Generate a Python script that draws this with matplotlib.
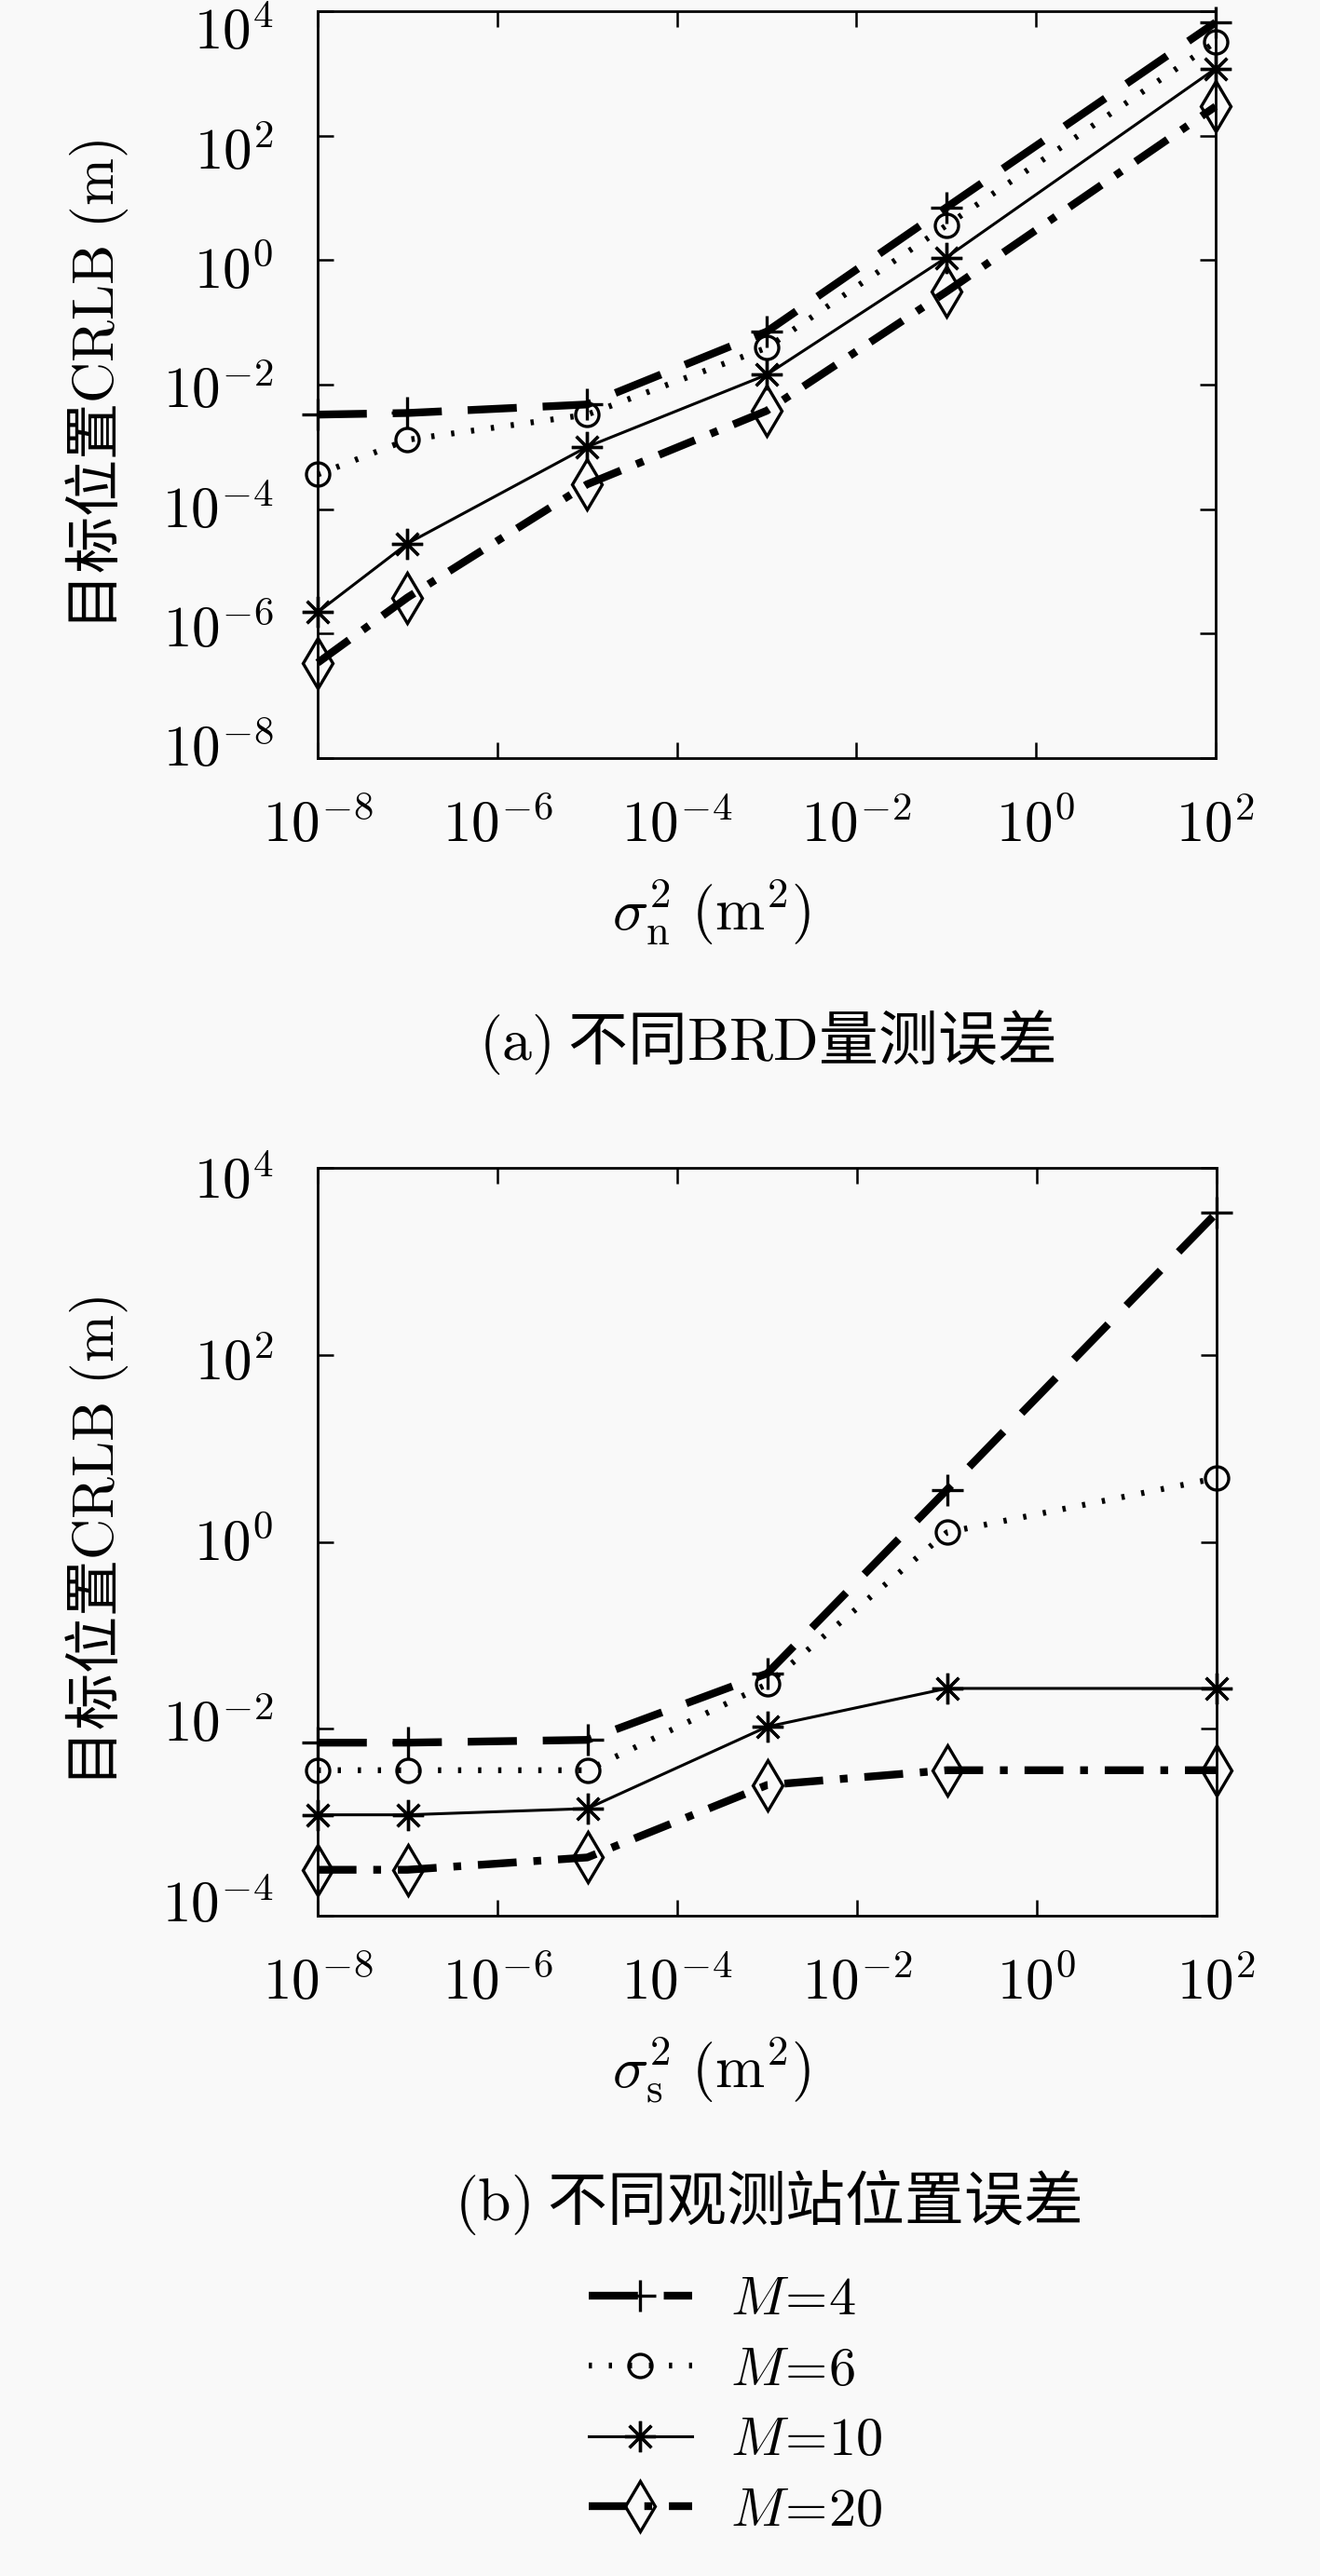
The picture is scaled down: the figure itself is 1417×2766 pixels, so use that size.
import matplotlib
matplotlib.use("Agg")
import matplotlib.pyplot as plt
import matplotlib.transforms as mtransforms

plt.rcParams['font.family'] = ['Noto Sans CJK SC', 'DejaVu Sans']
plt.rcParams['mathtext.fontset'] = 'cm'
plt.rcParams['lines.scale_dashes'] = False

# ---------------- data ----------------
x_vals = [1e-8, 1e-7, 1e-5, 1e-3, 1e-1, 1e2]
labels = [r'$M\!=\!4$', r'$M\!=\!6$', r'$M\!=\!10$', r'$M\!=\!20$']

# (a) different BRD measurement error
a_M4 = [3.3e-3, 3.5e-3, 4.8e-3, 7.1e-2, 7.0, 6600]
a_M6 = [3.6e-4, 1.3e-3, 3.3e-3, 3.9e-2, 3.6, 3200]
a_M10 = [2.2e-6, 2.8e-5, 1.0e-3, 1.44e-2, 1.1, 1200]
a_M20 = [3.4e-7, 3.8e-6, 2.5e-4, 3.8e-3, 0.31, 295]

# (b) different station position error
b_M4 = [7.1e-3, 7.1e-3, 7.6e-3, 3.9e-2, 3.6, 3300]
b_M6 = [3.6e-3, 3.6e-3, 3.6e-3, 3.0e-2, 1.26, 4.8]
b_M10 = [1.2e-3, 1.2e-3, 1.4e-3, 1.05e-2, 2.7e-2, 2.7e-2]
b_M20 = [3.1e-4, 3.1e-4, 4.2e-4, 2.5e-3, 3.6e-3, 3.6e-3]

xtick_exp = [-8, -6, -4, -2, 0, 2]
a_ytick_exp = [-8, -6, -4, -2, 0, 2, 4]
b_ytick_exp = [-4, -2, 0, 2, 4]

ylabel_text = r'目标位置$\mathrm{CRLB\ (m)}$'
xlabel_a = r'$\sigma_\mathrm{n}^2\ (\mathrm{m}^2)$'
xlabel_b = r'$\sigma_\mathrm{s}^2\ (\mathrm{m}^2)$'
caption_a = r'$(\mathrm{a})$ 不同$\mathrm{BRD}$量测误差'
caption_b = r'$(\mathrm{b})$ 不同观测站位置误差'

# ---------------- styles ----------------
styles = [
    dict(color='black', lw=6.0, dashes=(38, 20), marker='+', ms=24, mew=2.4),
    dict(color='black', lw=4.5, dashes=(2.5, 13), marker='o', ms=18, mew=2.4, mfc='none'),
    dict(color='black', lw=2.2, linestyle='-', marker=(8, 2, 0), ms=24, mew=2.4),
    dict(color='black', lw=6.0, dashes=(30, 13, 6, 13), marker='d', ms=28, mew=2.4, mfc='none'),
]

W, H = 1417, 2766
BG = '#f9f9f9'
fig = plt.figure(figsize=(W / 100, H / 100), dpi=100, facecolor=BG)

ax1 = fig.add_axes([341 / W, 1 - 814 / H, 964 / W, 802 / H])
ax2 = fig.add_axes([341 / W, 1 - 2057 / H, 965 / W, 803 / H])

FS = 44


def setup(ax, series, ylim, ytick_exp, xlabel, off_top, off_bot):
    ax.set_facecolor(BG)
    handles = []
    for ys, st in zip(series, styles):
        h, = ax.plot(x_vals, ys, clip_on=False, **st)
        handles.append(h)
    ax.set_xscale('log')
    ax.set_yscale('log')
    ax.set_xlim(1e-8, 1e2)
    ax.set_ylim(*ylim)
    ax.set_xticks([10.0 ** e for e in xtick_exp])
    ax.set_xticklabels([r'$10^{%d}$' % e for e in xtick_exp])
    ax.set_yticks([10.0 ** e for e in ytick_exp])
    ax.set_yticklabels([r'$10^{%d}$' % e for e in ytick_exp], va='center')
    ax.minorticks_off()
    ax.tick_params(which='both', direction='in', top=True, right=True,
                   length=12, width=1.8, labelsize=FS)
    ax.tick_params(axis='x', pad=30)
    ax.tick_params(axis='y', pad=34)
    top, bot = max(ytick_exp), min(ytick_exp)
    for e, lbl in zip(ytick_exp, ax.get_yticklabels()):
        off_px = off_top + (off_bot - off_top) * (top - e) / (top - bot)
        shift = mtransforms.ScaledTranslation(0, -off_px / 100, fig.dpi_scale_trans)
        lbl.set_transform(lbl.get_transform() + shift)
    for sp in ax.spines.values():
        sp.set_linewidth(2.0)
    ax.set_ylabel(ylabel_text, fontsize=FS)
    ax.yaxis.set_label_coords(-0.208, 0.5)
    ax.set_xlabel(xlabel, fontsize=FS + 2)
    ax.xaxis.set_label_coords(0.438, -0.16)
    return handles


setup(ax1, [a_M4, a_M6, a_M10, a_M20], (1e-8, 1e4), a_ytick_exp, xlabel_a, 24, -8)
handles = setup(ax2, [b_M4, b_M6, b_M10, b_M20], (1e-4, 1e4), b_ytick_exp, xlabel_b, 16, -10)

fig.text(823 / W, 1 - 1119 / H, caption_a, ha='center', va='center', fontsize=FS + 2)
fig.text(824 / W, 1 - 2365 / H, caption_b, ha='center', va='center', fontsize=FS + 2)

fig.legend(handles, labels, loc='upper left', bbox_to_anchor=(632 / W, 1 - 2438 / H),
           frameon=False, fontsize=FS - 2, handlelength=1.9, handletextpad=0.7,
           labelspacing=0.25, borderpad=0, borderaxespad=0, numpoints=1)

fig.savefig('out.png', dpi=100, facecolor=BG)
